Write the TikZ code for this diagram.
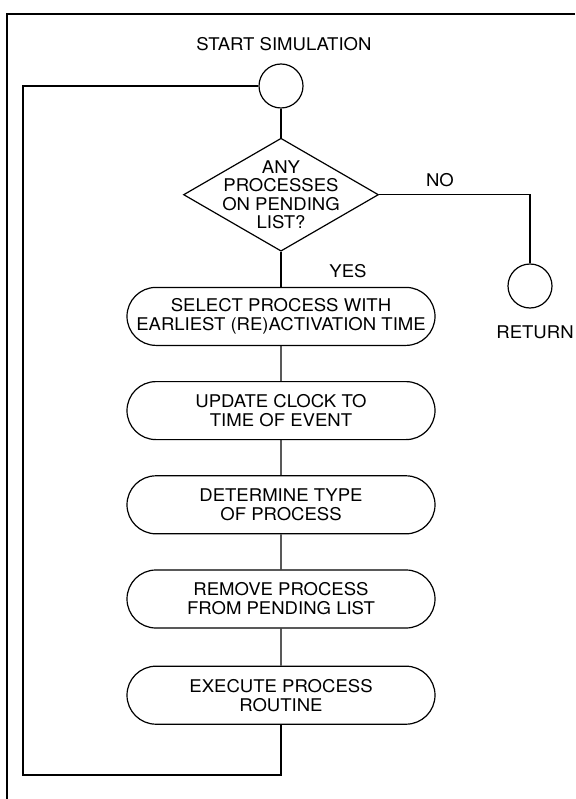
\documentclass[tikz,border=0pt]{standalone}
\usepackage{fontspec}
\setmainfont{TeX Gyre Heros}[FakeStretch=1.06]
\usetikzlibrary{shapes.geometric, shapes.misc, positioning}

\begin{document}
\begin{tikzpicture}[
    x=1pt, y=-1pt,
    node distance=35pt,
    every node/.style={font=\fontsize{17.5}{19}\selectfont},
    flow/.style={line width=1.2pt},
    stepbox/.style={
      rounded rectangle, draw, line width=1.2pt,
      minimum width=310pt, minimum height=58pt,
      align=center, inner sep=1pt
    },
    terminal/.style={circle, draw, line width=1.2pt, minimum size=44pt, inner sep=0pt},
    decision/.style={diamond, draw, line width=1.2pt, minimum width=195pt, minimum height=113pt, inner sep=0pt},
    tag/.style={align=center, inner sep=0pt}
  ]
    \useasboundingbox (0,0) rectangle (575,799);

    %% Frame
    \draw[flow] (575,14) -- (7,14) -- (7,799);

    %% Start and test
    \node[terminal] (start) at (281,86) {};
    \node[tag] (startlbl) at (284,44) {START SIMULATION};
    \node[decision, below=29pt of start] (pending) {};
    \node[tag, font=\fontsize{17.5}{18.3}\selectfont] (pendinglbl) at (pending.center) {ANY\\PROCESSES\\ON PENDING\\LIST?};

    %% Return branch
    \node[terminal] (ret) at (530,286) {};
    \node[tag] (retlbl) at (535,332) {RETURN};
    \node[tag] (nolbl) at (440,180) {NO};

    %% Main steps
    \node[stepbox, below=35pt of pending] (select) {SELECT PROCESS WITH\\EARLIEST (RE)ACTIVATION TIME};
    \node[stepbox, below=of select] (update) {UPDATE CLOCK TO\\TIME OF EVENT};
    \node[stepbox, below=of update] (determine) {DETERMINE TYPE\\OF PROCESS};
    \node[stepbox, below=of determine] (remove) {REMOVE PROCESS\\FROM PENDING LIST};
    \node[stepbox, below=37pt of remove] (execute) {EXECUTE PROCESS\\ROUTINE};
    \node[tag] (yeslbl) at (348,271) {YES};

    %% Connectors
    \coordinate (loopcorner) at (23,775);
    \draw[flow] (start) -- (pending);
    \draw[flow] (pending.east) -| (ret.north);
    \draw[flow] (pending.south) -- (select.north);
    \draw[flow] (select) -- (update);
    \draw[flow] (update) -- (determine);
    \draw[flow] (determine) -- (remove);
    \draw[flow] (remove) -- (execute);
    \draw[flow] (execute.south) |- (loopcorner) |- (start.west);
  \end{tikzpicture}
\end{document}
